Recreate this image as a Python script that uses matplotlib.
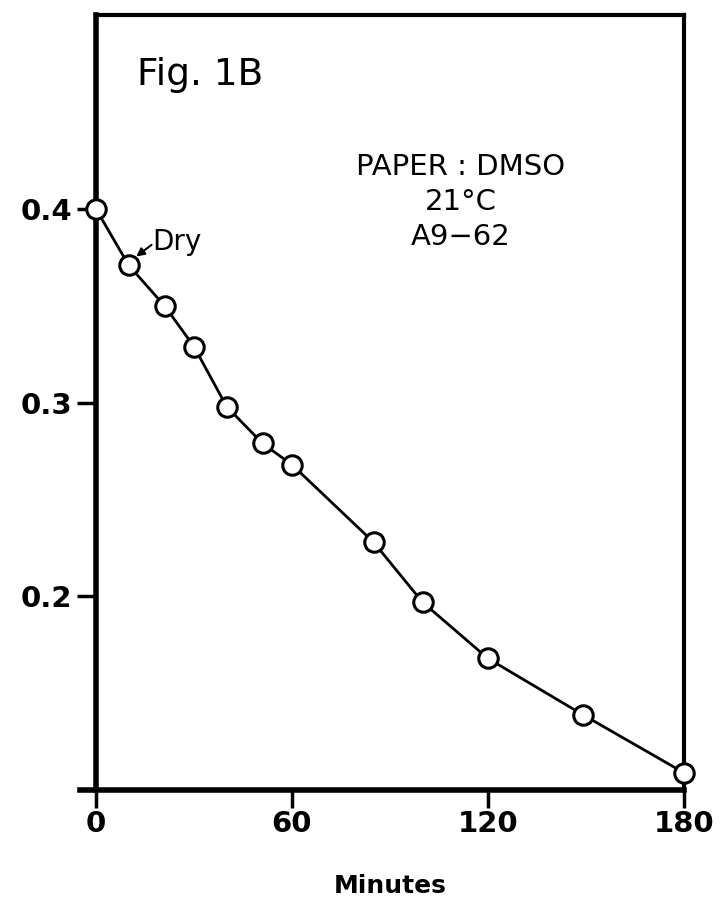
import matplotlib.pyplot as plt

# data
minutes = [0, 10, 21, 30, 40, 51, 60, 85, 100, 120, 149, 180]
values = [0.40, 0.371, 0.35, 0.329, 0.298, 0.279, 0.268, 0.228, 0.197, 0.168, 0.139, 0.109]
xticks = [0, 60, 120, 180]
yticks = [0.2, 0.3, 0.4]
ytick_labels = ['0.2', '0.3', '0.4']

plt.rcParams['font.family'] = ['DejaVu Sans']

fig = plt.figure(figsize=(7.22, 9.05), dpi=100)
ax = fig.add_axes([0.133, 0.127, 0.814, 0.856])

ax.plot(minutes, values, color='black', lw=2, marker='o', ms=14,
        mfc='white', mec='black', mew=2.2, clip_on=False, zorder=3)

ax.set_xlim(0, 180)
ax.set_ylim(0.1, 0.5)
ax.set_xticks(xticks)
ax.set_xticklabels([str(t) for t in xticks])
ax.set_yticks(yticks)
ax.set_yticklabels(ytick_labels)
ax.tick_params(axis='both', direction='out', length=14, width=2.5,
               labelsize=21, pad=3)
ax.tick_params(axis='x', length=13, pad=1)
for lab in ax.get_xticklabels() + ax.get_yticklabels():
    lab.set_fontweight('bold')

ax.spines['left'].set_linewidth(4)
ax.spines['bottom'].set_linewidth(4)
ax.spines['bottom'].set_bounds(-5, 180)
ax.spines['top'].set_linewidth(3)
ax.spines['right'].set_linewidth(3)

ax.set_xlabel('Minutes', fontsize=18, fontweight='bold', labelpad=26)

ax.text(0.07, 0.923, 'Fig. 1B', transform=ax.transAxes, fontsize=27,
        ha='left', va='center')
ax.text(0.62, 0.759, 'PAPER : DMSO\n21°C\nA9\u221262', transform=ax.transAxes,
        fontsize=21, ha='center', va='center', linespacing=1.32)

ax.text(17.2, 0.383, 'Dry', fontsize=20, ha='left', va='center')
ax.annotate('', xy=(12.3, 0.3755), xytext=(17, 0.3815),
            arrowprops=dict(arrowstyle='-|>', color='black', lw=1.5,
                            shrinkA=0, shrinkB=0, mutation_scale=12))

fig.savefig('out.png', dpi=100)
